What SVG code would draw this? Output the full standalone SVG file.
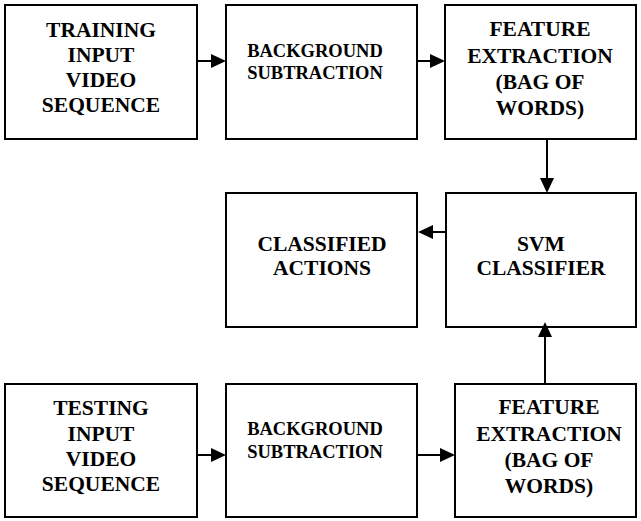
<svg xmlns="http://www.w3.org/2000/svg" width="641" height="521" viewBox="0 0 641 521">
  <defs>
    <style>
      .box { fill: #ffffff; stroke: #000000; stroke-width: 2; }
      .lbl { font-family: 'Liberation Serif', 'Times New Roman', serif; font-weight: 700; font-size: 21.5px; fill: #000000; text-anchor: middle; }
      .sm { font-size: 18.5px; }
      .link { stroke: #000000; stroke-width: 2; fill: none; marker-end: url(#head); }
    </style>
    <!-- solid triangular arrowhead; tip sits 8px past the line end -->
    <marker id="head" markerUnits="userSpaceOnUse" markerWidth="16" markerHeight="14" refX="7" refY="7" orient="auto">
      <path d="M0,0 L15,7 L0,14 Z" fill="#000000"/>
    </marker>
  </defs>

  <rect width="641" height="521" fill="#ffffff"/>

  <g id="training-input">
    <rect class="box" x="5" y="5" width="192" height="134"/>
    <text class="lbl" x="101" y="37">TRAINING</text>
    <text class="lbl" x="101" y="62">INPUT</text>
    <text class="lbl" x="101" y="87">VIDEO</text>
    <text class="lbl" x="101" y="112">SEQUENCE</text>
  </g>

  <g id="bg-sub-train">
    <rect class="box" x="226" y="5" width="191" height="134"/>
    <text class="lbl sm" x="315" y="57">BACKGROUND</text>
    <text class="lbl sm" x="315" y="79">SUBTRACTION</text>
  </g>

  <g id="feature-train">
    <rect class="box" x="445" y="5" width="191" height="134"/>
    <text class="lbl" x="540" y="36">FEATURE</text>
    <text class="lbl" x="540" y="63">EXTRACTION</text>
    <text class="lbl" x="540" y="89">(BAG OF</text>
    <text class="lbl" x="540" y="115">WORDS)</text>
  </g>

  <g id="classified-actions">
    <rect class="box" x="226" y="193" width="191" height="134"/>
    <text class="lbl" x="322" y="251">CLASSIFIED</text>
    <text class="lbl" x="322" y="275">ACTIONS</text>
  </g>

  <g id="svm-classifier">
    <rect class="box" x="446" y="193" width="190" height="134"/>
    <text class="lbl" x="541" y="251">SVM</text>
    <text class="lbl" x="541" y="275">CLASSIFIER</text>
  </g>

  <g id="testing-input">
    <rect class="box" x="5" y="384" width="192" height="133"/>
    <text class="lbl" x="101" y="415">TESTING</text>
    <text class="lbl" x="101" y="441">INPUT</text>
    <text class="lbl" x="101" y="466">VIDEO</text>
    <text class="lbl" x="101" y="491">SEQUENCE</text>
  </g>

  <g id="bg-sub-test">
    <rect class="box" x="226" y="384" width="191" height="133"/>
    <text class="lbl sm" x="315" y="435">BACKGROUND</text>
    <text class="lbl sm" x="315" y="458">SUBTRACTION</text>
  </g>

  <g id="feature-test">
    <rect class="box" x="455" y="384" width="181" height="133"/>
    <text class="lbl" x="549" y="414">FEATURE</text>
    <text class="lbl" x="549" y="441">EXTRACTION</text>
    <text class="lbl" x="549" y="467">(BAG OF</text>
    <text class="lbl" x="549" y="493">WORDS)</text>
  </g>

  <g id="connectors">
    <line class="link" x1="197" y1="61" x2="218" y2="61"/>
    <line class="link" x1="417" y1="61" x2="437" y2="61"/>
    <line class="link" x1="547" y1="139" x2="547" y2="185"/>
    <line class="link" x1="446" y1="232" x2="426" y2="232"/>
    <line class="link" x1="545" y1="384" x2="545" y2="330"/>
    <line class="link" x1="197" y1="455" x2="218" y2="455"/>
    <line class="link" x1="417" y1="455" x2="447" y2="455"/>
  </g>
</svg>
